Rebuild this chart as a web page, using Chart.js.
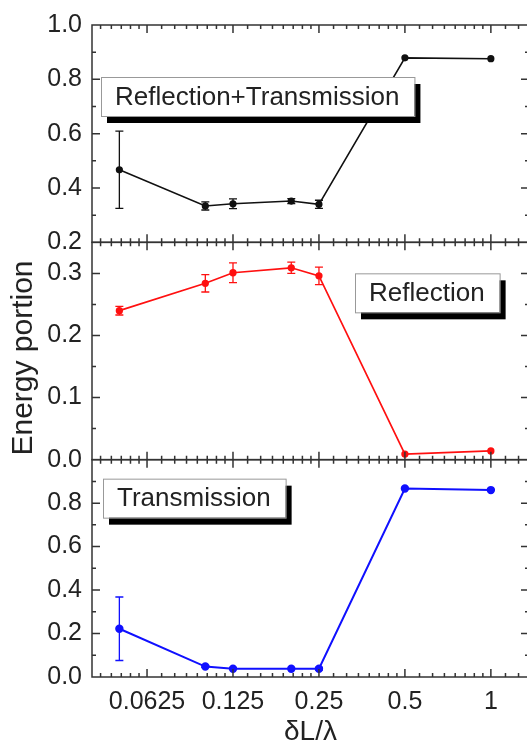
<!DOCTYPE html>
<html lang="en">
<head>
<meta charset="UTF-8">
<title>Energy portion vs δL/λ</title>
<script src="https://cdn.jsdelivr.net/npm/chart.js"></script>
<style>
  html, body { margin: 0; background: #fff; overflow: hidden; }
  #chart { display: block; }
</style>
</head>
<body>
<!-- canvas is a little wider than the window: the right frame sits just off-screen, as in the figure -->
<canvas id="chart" width="535" height="749"></canvas>
<script>
// dL/lambda positions of the samples and the labelled ticks
const xValues = [0.05, 0.1, 0.125, 0.2, 0.25, 0.5, 1];
const xTicks = [0.0625, 0.125, 0.25, 0.5, 1];

// Reflection+Transmission (top panel)
const sumValues = [0.467, 0.334, 0.342, 0.352, 0.340, 0.879, 0.876];
const sumErrors = [0.142, 0.015, 0.018, 0.009, 0.015, 0, 0];

// Reflection (middle panel)
const reflValues = [0.240, 0.284, 0.301, 0.309, 0.296, 0.009, 0.014];
const reflErrors = [0.007, 0.014, 0.016, 0.009, 0.014, 0, 0];

// Transmission (bottom panel)
const transValues = [0.222, 0.048, 0.038, 0.038, 0.038, 0.867, 0.860];
const transErrors = [0.146, 0.004, 0, 0, 0.006, 0, 0];

const panelNames = ['Reflection+Transmission', 'Reflection', 'Transmission'];

Chart.defaults.font.family = '"Liberation Sans", Arial, sans-serif';
Chart.defaults.color = '#222';

function pts(vals) {
    return xValues.map((x, i) => ({ x: x, y: vals[i] }));
}

function yAxis(min, max, step, hideTop) {
    return {
        type: 'linear',
        position: 'left',
        stack: 'panels',
        stackWeight: 1,
        min: min,
        max: max,
        grid: { display: false, drawTicks: false },
        border: { display: false },
        ticks: {
            stepSize: step,
            includeBounds: false,
            autoSkip: false,
            padding: 10,
            font: { size: 25 },
            callback: v => (hideTop && v >= max - 1e-9) ? '' : v.toFixed(1)
        },
        afterFit: s => { s.width = 92; }
    };
}

// minor/major tick steps for the inward tick marks
const tickSteps = {
    yT: { minor: 0.1, major: 0.2 },
    yR: { minor: 0.05, major: 0.1 },
    yB: { minor: 0.1, major: 0.2 }
};

const framePlugin = {
    id: 'frame',
    afterDatasetsDraw(chart) {
        const ctx = chart.ctx;
        const area = chart.chartArea;
        const xs = chart.scales.x;

        // error bars
        chart.data.datasets.forEach(ds => {
            const ys = chart.scales[ds.yAxisID];
            ctx.save();
            ctx.strokeStyle = ds.borderColor;
            ctx.lineWidth = 1.3;
            ds.data.forEach((p, i) => {
                const e = ds.errors[i];
                if (!e) return;
                const px = xs.getPixelForValue(p.x);
                const y1 = ys.getPixelForValue(p.y + e);
                const y2 = ys.getPixelForValue(p.y - e);
                ctx.beginPath();
                ctx.moveTo(px, y1); ctx.lineTo(px, y2);
                ctx.moveTo(px - 4, y1); ctx.lineTo(px + 4, y1);
                ctx.moveTo(px - 4, y2); ctx.lineTo(px + 4, y2);
                ctx.stroke();
            });
            ctx.restore();
        });

        // panel frames and inward ticks
        ctx.save();
        ctx.strokeStyle = '#333';
        ctx.lineWidth = 1.5;
        ['yT', 'yR', 'yB'].forEach(id => {
            const ys = chart.scales[id];
            const top = ys.top, bottom = ys.bottom;
            ctx.strokeRect(area.left, top, area.right - area.left, bottom - top);

            ctx.beginPath();
            // y ticks, left and right
            const st = tickSteps[id];
            const n = Math.round((ys.max - ys.min) / st.minor);
            for (let i = 1; i < n; i++) {
                const v = ys.min + i * st.minor;
                const major = Math.abs(v / st.major - Math.round(v / st.major)) < 1e-6;
                const len = major ? 8 : 4;
                const py = ys.getPixelForValue(v);
                ctx.moveTo(area.left, py); ctx.lineTo(area.left + len, py);
                ctx.moveTo(area.right, py); ctx.lineTo(area.right - len, py);
            }
            // x ticks, top and bottom of each panel
            const xt = [];
            xTicks.forEach(v => xt.push([v, 8]));
            for (let k = -6; k <= 1; k++) {
                const base = Math.pow(2, k);
                for (let j = 1; j < 8; j++) xt.push([base * (1 + j / 8), 4]);
            }
            xt.forEach(([v, len]) => {
                if (v <= xs.min || v >= xs.max) return;
                const px = xs.getPixelForValue(v);
                ctx.moveTo(px, top); ctx.lineTo(px, top + len);
                ctx.moveTo(px, bottom); ctx.lineTo(px, bottom - len);
            });
            ctx.stroke();
        });
        ctx.restore();

        // panel name boxes with drop shadow
        const boxes = [
            { id: 'yT', dx: 9, dy: 52 },
            { id: 'yR', dx: 263, dy: 31 },
            { id: 'yB', dx: 11, dy: 19 }
        ];
        ctx.save();
        ctx.font = '26px "Liberation Sans", Arial, sans-serif';
        ctx.textBaseline = 'middle';
        boxes.forEach((b, i) => {
            const text = panelNames[i];
            const w = ctx.measureText(text).width + 29;
            const h = 39;
            const bx = area.left + b.dx;
            const by = chart.scales[b.id].top + b.dy;
            ctx.fillStyle = '#000';
            ctx.fillRect(bx + 6, by + 7, w, h);
            ctx.fillStyle = '#fff';
            ctx.fillRect(bx, by, w, h);
            ctx.strokeStyle = '#999';
            ctx.lineWidth = 1;
            ctx.strokeRect(bx + 0.5, by + 0.5, w, h);
            ctx.fillStyle = '#222';
            ctx.fillText(text, bx + 14, by + h / 2 + 1);
        });
        ctx.restore();

        // shared y axis title
        ctx.save();
        ctx.translate(24, 358);
        ctx.rotate(-Math.PI / 2);
        ctx.font = '30px "Liberation Sans", Arial, sans-serif';
        ctx.fillStyle = '#222';
        ctx.textAlign = 'center';
        ctx.textBaseline = 'middle';
        ctx.fillText('Energy portion', 0, 0);
        ctx.restore();
    }
};

const ctx = document.getElementById('chart').getContext('2d');
const chart = new Chart(ctx, {
    type: 'line',
    data: {
        datasets: [
            {
                label: panelNames[0], yAxisID: 'yT', data: pts(sumValues), errors: sumErrors,
                borderColor: '#111', backgroundColor: '#111', borderWidth: 1.6, pointRadius: 2.8
            },
            {
                label: panelNames[1], yAxisID: 'yR', data: pts(reflValues), errors: reflErrors,
                borderColor: '#ff1010', backgroundColor: '#ff1010', borderWidth: 1.7, pointRadius: 2.8
            },
            {
                label: panelNames[2], yAxisID: 'yB', data: pts(transValues), errors: transErrors,
                borderColor: '#1010ff', backgroundColor: '#1010ff', borderWidth: 2, pointRadius: 3.2
            }
        ]
    },
    options: {
        responsive: false,
        animation: false,
        layout: { padding: { top: 15, right: 2, bottom: 0, left: 0 } },
        plugins: { legend: { display: false }, tooltip: { enabled: false } },
        scales: {
            x: {
                type: 'logarithmic',
                min: 0.0401,
                max: 1.36,
                grid: { display: false, drawTicks: false },
                border: { display: false },
                afterBuildTicks: s => { s.ticks = xTicks.map(v => ({ value: v })); },
                ticks: {
                    autoSkip: false,
                    maxRotation: 0,
                    padding: 10,
                    font: { size: 25 },
                    callback: v => String(v)
                },
                title: { display: true, text: 'δL/λ', font: { size: 28 }, padding: 0 },
                afterFit: s => { s.height = 72; s.paddingLeft = 0; s.paddingRight = 0; }
            },
            // last defined ends up on top of the stack
            yB: yAxis(0, 1.0, 0.2, true),
            yR: yAxis(0, 0.35, 0.1, false),
            yT: yAxis(0.2, 1.0, 0.2, false)
        }
    },
    plugins: [framePlugin]
});
</script>
</body>
</html>
